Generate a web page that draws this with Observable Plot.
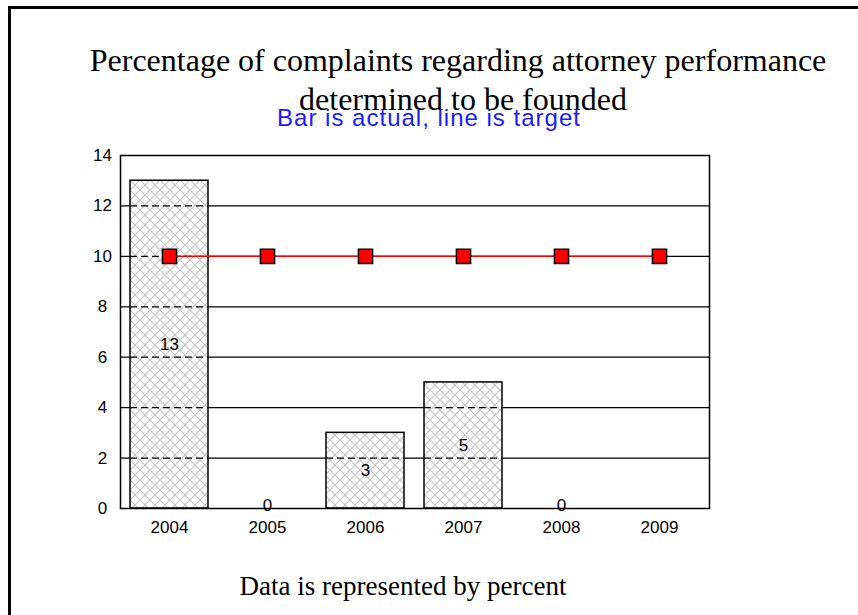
<!DOCTYPE html>
<html>
<head>
<meta charset="utf-8">
<script src="https://cdn.jsdelivr.net/npm/d3@7"></script>
<script src="https://cdn.jsdelivr.net/npm/@observablehq/plot@0.6"></script>
<style>
  html, body { margin: 0; padding: 0; background: white; }
  #wrap { position: relative; width: 858px; height: 615px; overflow: hidden; }
  #frame { position: absolute; left: 8px; top: 6px; width: 900px; height: 700px;
           border-left: 3px solid black; border-top: 3px solid black; }
  .t { position: absolute; white-space: nowrap; transform: translateX(-50%); line-height: 1; }
  #title1, #title2 { font-family: "Liberation Serif", "Times New Roman", serif; font-size: 32px; color: #000; }
  #sub { font-family: "Liberation Sans", Arial, sans-serif; font-size: 24px; letter-spacing: 1px; color: #1a1aff; }
  #cap { font-family: "Liberation Serif", "Times New Roman", serif; font-size: 27px; color: #000; }
  #chart { position: absolute; left: 0; top: 0; }
</style>
</head>
<body>
<div id="wrap">
  <div id="frame"></div>
  <div id="chart"></div>
  <div class="t" id="title1" style="left:458px; top:44px;">Percentage of complaints regarding attorney performance</div>
  <div class="t" id="title2" style="left:463px; top:83px;">determined to be founded</div>
  <div class="t" id="sub" style="left:429px; top:106px;">Bar is actual, line is target</div>
  <div class="t" id="cap" style="left:403px; top:573px;">Data is represented by percent</div>
</div>
<script>
const years = ["2004", "2005", "2006", "2007", "2008", "2009"];
const actual = [13, 0, 3, 5, 0, null];
const target = [10, 10, 10, 10, 10, 10];
const yTicks = [0, 2, 4, 6, 8, 10, 12, 14];
const gridValues = [2, 4, 6, 8, 10, 12];

const rows = years.map((y, i) => ({year: y, actual: actual[i], target: target[i]}));
const barRows = rows.filter(d => d.actual != null);
const nonZeroRows = barRows.filter(d => d.actual !== 0);
const zeroRows = barRows.filter(d => d.actual === 0);
const gridOverBars = [];
for (const d of barRows) for (const g of gridValues) if (g < d.actual) gridOverBars.push({year: d.year, g});

const defs = () => {
  const d = d3.create("svg:defs");
  const p = d.append("pattern").attr("id", "hatch").attr("patternUnits", "userSpaceOnUse")
    .attr("width", 10).attr("height", 10);
  p.append("rect").attr("width", 10).attr("height", 10).attr("fill", "white");
  p.append("path").attr("d", "M-1,-1L11,11M11,-1L-1,11").attr("stroke", "#c4c4c4").attr("stroke-width", 1.2).attr("fill", "none");
  return d.node();
};

const chart = Plot.plot({
  width: 858,
  height: 615,
  marginLeft: 120,
  marginRight: 149,
  marginTop: 155,
  marginBottom: 107,
  style: {fontFamily: "'Liberation Sans', Arial, sans-serif", fontSize: "17px", color: "#000", background: "transparent", overflow: "visible"},
  x: {domain: years, paddingInner: 0.2, paddingOuter: 0.1, label: null},
  y: {domain: [0, 14], label: null},
  marks: [
    defs,
    Plot.ruleY(gridValues, {stroke: "black", strokeWidth: 1.3}),
    Plot.barY(barRows, {x: "year", y: "actual", fill: "url(#hatch)", stroke: "black", strokeWidth: 1.5}),
    Plot.tickY(gridOverBars, {x: "year", y: "g", stroke: "black", strokeWidth: 1.3, strokeDasharray: "7,4"}),
    Plot.line(rows, {x: "year", y: "target", stroke: "red", strokeWidth: 1.5}),
    Plot.dot(rows, {x: "year", y: "target", symbol: "square", r: 8, fill: "red", stroke: "black", strokeWidth: 1.5}),
    Plot.text(nonZeroRows, {x: "year", y: d => d.actual / 2, text: d => String(d.actual), fill: "black", fontSize: 17}),
    Plot.text(zeroRows, {x: "year", y: "actual", text: d => String(d.actual), fill: "black", fontSize: 17, dy: -3}),
    Plot.axisY({ticks: yTicks, tickSize: 0, tickPadding: 18, textAnchor: "middle", label: null, fontSize: 17}),
    Plot.axisX({tickSize: 0, tickPadding: 12, label: null, fontSize: 17}),
    Plot.frame({stroke: "black", strokeWidth: 1.5})
  ]
});
document.getElementById("chart").appendChild(chart);
</script>
</body>
</html>
